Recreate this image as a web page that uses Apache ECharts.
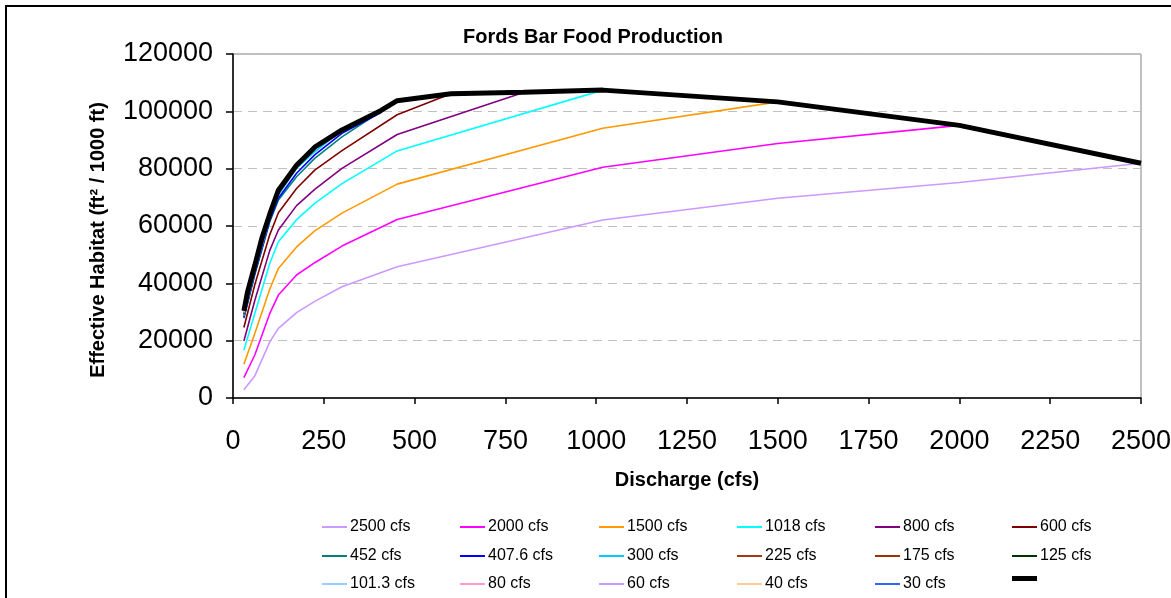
<!DOCTYPE html>
<html>
<head>
<meta charset="utf-8">
<script src="https://cdn.jsdelivr.net/npm/echarts@6/dist/echarts.min.js"></script>
<style>
html,body{margin:0;padding:0;background:#fff;overflow:hidden;}
#chart{width:1171px;height:598px;}
</style>
</head>
<body>
<div id="chart"></div>
<script>
// Discharge values (cfs) where curves have vertices
const discharge = [30, 40, 60, 80, 101.3, 125, 175, 225, 300, 407.6, 452, 600, 800, 1018, 1500, 2000, 2500];

// Effective habitat per series (null = no vertex at that discharge)
const q2500 = [2900, null, 7700, null, 19600, 24300, 29800, 33700, 38800, null, 45800, null, null, 62100, 69700, 75200, 81900];
const q2000 = [7100, null, 15000, null, 29500, 35900, 42900, 47200, 53000, null, 62300, null, null, 80500, 88800, 95100];
const q1500 = [11800, null, 22500, null, 38000, 45200, 52700, 58300, 64500, null, 74600, null, null, 94100, 103300];
const q1018 = [16700, null, 29500, null, 47000, 54500, 62200, 67900, 74800, null, 86200, null, null, 107400];
const q800  = [19900, null, 34000, null, 51500, 58600, 67100, 72800, 80100, null, 91900, null, 106600];
const q600  = [24600, null, 39500, null, 57000, 64600, 73100, 79500, 86300, null, 98800, 106150];
const q452  = [27800, null, 43000, null, 61500, 69100, 77200, 83600, 91100, null, 103700];
const q407  = [28200, null, 43500, null, 62000, 69700, 78400, 84800, 92300, 99600];
const q300  = [28700, null, 44200, null, 62700, 70800, 80100, 85900, 93400];
const q225  = [29000, null, 44800, null, 63100, 71300, 80600, 87400];
const q175  = [29300, null, 45200, null, 63400, 71800, 81100];
const q125  = [29600, null, 45600, null, 63800, 72400];
const q101  = [29800, null, 45900, null, 64000];
const q80   = [30000, null, 46000, 55500];
const q60   = [30200, null, 46200];
const q40   = [30300, 37000];
const q30   = [30400];
const envelope = [30400, 37000, 46300, 56000, 64200, 72500, 81200, 87500, 93500, 100300, 103700, 106150, 106650, 107400, 103300, 95100, 81900];

const seriesNames = ['2500 cfs','2000 cfs','1500 cfs','1018 cfs','800 cfs','600 cfs',
                     '452 cfs','407.6 cfs','300 cfs','225 cfs','175 cfs','125 cfs',
                     '101.3 cfs','80 cfs','60 cfs','40 cfs','30 cfs','Envelope'];
const seriesValues = [q2500,q2000,q1500,q1018,q800,q600,q452,q407,q300,q225,q175,q125,q101,q80,q60,q40,q30,envelope];
const seriesColors = ['#CC99FF','#FF00FF','#FF9900','#00FFFF','#800080','#800000',
                      '#008080','#0000FF','#00CCFF','#A33A10','#993300','#003300',
                      '#99CCFF','#FF99CC','#CC99FF','#FFCC99','#3366FF','#000000'];

const yTicks = [0, 20000, 40000, 60000, 80000, 100000, 120000];
const xTicks = [0, 250, 500, 750, 1000, 1250, 1500, 1750, 2000, 2250, 2500];

const FONT = "'Liberation Sans', Arial, Helvetica, sans-serif";

const series = seriesNames.map((name, i) => {
  const pts = [];
  seriesValues[i].forEach((v, j) => { if (v !== null) pts.push([discharge[j], v]); });
  const isEnv = i === seriesNames.length - 1;
  return {
    name: name,
    type: 'line',
    data: pts,
    showSymbol: false,
    symbol: 'none',
    connectNulls: true,
    lineStyle: { color: seriesColors[i], width: isEnv ? 5 : 1.6 },
    itemStyle: { color: seriesColors[i] },
    z: isEnv ? 10 : 2,
    silent: true
  };
});

const colLeft = [322, 460, 599, 737, 875, 1012];
const rowCenter = [525, 554, 582];
const legends = seriesNames.map((name, i) => {
  const isEnv = i === seriesNames.length - 1;
  return {
    data: [name],
    left: colLeft[i % 6],
    top: rowCenter[Math.floor(i / 6)] - 6,
    padding: 0,
    icon: 'rect',
    itemWidth: 25,
    itemHeight: isEnv ? 5 : 2,
    selectedMode: false,
    formatter: isEnv ? () => '' : (n) => n,
    textStyle: { fontFamily: FONT, fontSize: 16, color: '#000', padding: [0, 0, 0, -2] }
  };
});

const chart = echarts.init(document.getElementById('chart'), null, { renderer: 'canvas' });
chart.setOption({
  animation: false,
  backgroundColor: '#fff',
  title: {
    text: 'Fords Bar Food Production',
    left: 463, top: 27, padding: 0,
    textStyle: { fontFamily: FONT, fontSize: 20, fontWeight: 'bold', color: '#000' }
  },
  graphic: [{
    type: 'rect',
    shape: { x: 6, y: 6, width: 1200, height: 700 },
    style: { fill: 'none', stroke: '#000', lineWidth: 2 },
    silent: true
  }],
  legend: legends,
  grid: {
    left: 233, right: 30, top: 54, bottom: 200,
    containLabel: false,
    outerBoundsMode: 'none',
    show: true, borderColor: '#808080', borderWidth: 1, backgroundColor: 'transparent'
  },
  xAxis: {
    type: 'value',
    min: xTicks[0], max: xTicks[xTicks.length - 1], interval: 250,
    name: 'Discharge (cfs)',
    nameLocation: 'middle', nameGap: 72,
    nameTextStyle: { fontFamily: FONT, fontSize: 20, fontWeight: 'bold', color: '#000' },
    axisLine: { show: true, onZero: false, lineStyle: { color: '#000', width: 1.5 } },
    axisTick: { show: true, length: 6, lineStyle: { color: '#000', width: 1.5 } },
    axisLabel: { fontFamily: FONT, fontSize: 27, color: '#000', margin: 30, hideOverlap: false,
                 formatter: (v) => String(v) },
    splitLine: { show: false }
  },
  yAxis: {
    type: 'value',
    min: yTicks[0], max: yTicks[yTicks.length - 1], interval: 20000,
    name: 'Effective Habitat (ft\u00B2 / 1000 ft)',
    nameLocation: 'middle', nameGap: 125,
    nameTextStyle: { fontFamily: FONT, fontSize: 20, fontWeight: 'bold', color: '#000',
                     padding: [0, 28, 0, 0] },
    axisLine: { show: true, lineStyle: { color: '#000', width: 1.5 } },
    axisTick: { show: true, length: 7, lineStyle: { color: '#000', width: 1.5 } },
    axisLabel: { fontFamily: FONT, fontSize: 27, color: '#000', margin: 20,
                 formatter: (v) => String(v) },
    splitLine: { show: true, lineStyle: { color: '#C0C0C0', width: 1, type: [9, 6] } }
  },
  series: series
});
</script>
</body>
</html>
